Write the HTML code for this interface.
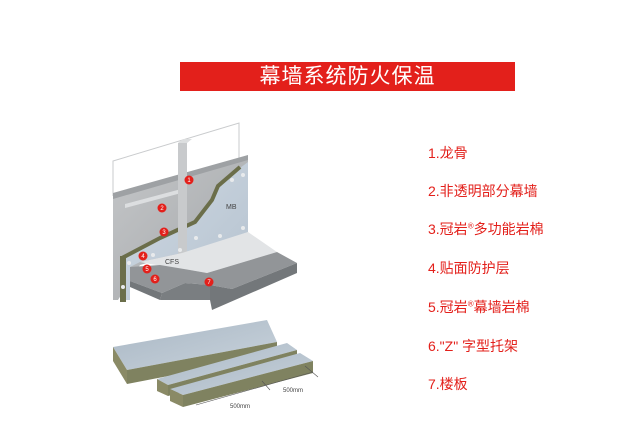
<!DOCTYPE html>
<html><head><meta charset="utf-8"><style>
html,body{margin:0;padding:0;background:#fff;width:643px;height:430px;overflow:hidden}
.t{position:absolute;left:180px;top:62px;width:335px;height:29px;background:#e3201b;color:#fff;font:21px "Liberation Sans","Noto Sans CJK SC",sans-serif;text-align:center;line-height:29px;letter-spacing:1px}
.l{position:absolute;left:428px;color:#e3201b;font:14px "Liberation Sans","Noto Sans CJK SC",sans-serif;white-space:nowrap}
sup{font-size:8px}
</style></head><body>
<div class="t">幕墙系统防火保温</div>
<div class="l" style="top:143px">1.龙骨</div>
<div class="l" style="top:181px">2.非透明部分幕墙</div>
<div class="l" style="top:219px">3.冠岩<sup>®</sup>多功能岩棉</div>
<div class="l" style="top:258px">4.贴面防护层</div>
<div class="l" style="top:297px">5.冠岩<sup>®</sup>幕墙岩棉</div>
<div class="l" style="top:336px">6."Z" 字型托架</div>
<div class="l" style="top:374px">7.楼板</div>
<svg width="643" height="430" style="position:absolute;left:0;top:0">
<defs>
<linearGradient id="g" x1="0" y1="0" x2="1" y2="1"><stop offset="0" stop-color="#c4c6c8"/><stop offset="1" stop-color="#a3a6a9"/></linearGradient>
<linearGradient id="ins" x1="0" y1="0" x2="1" y2="1"><stop offset="0" stop-color="#cfd9e3"/><stop offset="1" stop-color="#b5c2cf"/></linearGradient>
<linearGradient id="bd" x1="0" y1="0" x2="1" y2="1"><stop offset="0" stop-color="#a9b7c4"/><stop offset="1" stop-color="#c9d3dc"/></linearGradient>
</defs>
<polyline points="113,196 113,161 239,123 239,158" fill="none" stroke="#c9cbcd" stroke-width="1"/>
<polygon points="113,196 248,157 248,232 182,253 140,265 118,300 113,300" fill="url(#g)"/>
<polygon points="113,193 248,155 248,160 113,199" fill="#9ea1a4"/>
<polygon points="125,204 185,188 185,192 125,208" fill="#dcdee0"/>
<polygon points="240,168 248,162 248,232 215,244 182,253 140,262 130,267 130,300 122,300 122,258 160,238 195,222 212,200 218,186" fill="url(#ins)"/>
<polyline points="122,258 160,238 195,222 212,200 218,186 240,167" fill="none" stroke="#6b6e4a" stroke-width="4"/>
<rect x="120" y="256" width="6" height="46" fill="#6b6e4a"/>
<rect x="178" y="143" width="9" height="120" fill="#c8cacc"/>
<polygon points="178,143 183,139 192,139 187,143" fill="#dcdedf"/>
<polygon points="140,262 182,253 248,232 277,252 207,273 190,270 150,264" fill="#e2e4e6"/>
<polygon points="130,267 160,265 190,270 207,273 277,252 297,263 232,289 210,285 185,283 162,293 130,281" fill="#929598"/>
<polygon points="162,293 185,283 210,285 210,300 187,300 160,300" fill="#7a7e81"/>
<polygon points="210,285 232,289 297,263 297,273 212,310 210,300" fill="#73777a"/>
<polygon points="130,281 162,293 160,300 130,287" fill="#73777a"/>
<g fill="#e8eaec"><circle cx="232" cy="180" r="2"/><circle cx="243" cy="175" r="2"/><circle cx="243" cy="228" r="2"/><circle cx="220" cy="236" r="2"/><circle cx="196" cy="238" r="2"/><circle cx="180" cy="250" r="2"/><circle cx="153" cy="255" r="2"/><circle cx="129" cy="263" r="2"/><circle cx="123" cy="287" r="2"/></g>
<g fill="#e3201b"><circle cx="189" cy="180" r="4.5"/><circle cx="162" cy="208" r="4.5"/><circle cx="164" cy="232" r="4.5"/><circle cx="143" cy="256" r="4.5"/><circle cx="147" cy="269" r="4.5"/><circle cx="155" cy="279" r="4.5"/><circle cx="209" cy="282" r="4.5"/></g>
<g fill="#fff" font-family="Liberation Sans" font-size="6" text-anchor="middle"><text x="189" y="182">1</text><text x="162" y="210">2</text><text x="164" y="234">3</text><text x="143" y="258">4</text><text x="147" y="271">5</text><text x="155" y="281">6</text><text x="209" y="284">7</text></g>
<text x="226" y="209" font-family="Liberation Sans" font-size="7" fill="#444">MB</text>
<text x="165" y="264" font-family="Liberation Sans" font-size="7" fill="#444">CFS</text>
<polygon points="113,347 267,320 277,342 127,370" fill="url(#bd)"/>
<polygon points="113,347 127,370 127,384 113,361" fill="#8a8a66"/>
<polygon points="127,370 277,342 277,355 127,384" fill="#7f8260"/>
<polygon points="157,379 287,343 297,350 168,385" fill="url(#bd)"/>
<polygon points="157,379 168,385 168,396 157,391" fill="#8a8a66"/>
<polygon points="168,385 297,350 297,361 168,396" fill="#7f8260"/>
<polygon points="170,389 300,353 313,361 183,395" fill="url(#bd)"/>
<polygon points="170,389 183,395 183,407 170,401" fill="#8a8a66"/>
<polygon points="183,395 313,361 313,373 183,407" fill="#7f8260"/>
<g stroke="#555" stroke-width="0.6"><line x1="196" y1="405" x2="313" y2="372"/><line x1="262" y1="381" x2="270" y2="390"/><line x1="305" y1="366" x2="318" y2="377"/></g>
<text x="230" y="408" font-family="Liberation Sans" font-size="6" fill="#444">500mm</text>
<text x="283" y="392" font-family="Liberation Sans" font-size="6" fill="#444">500mm</text>
</svg>
</body></html>
